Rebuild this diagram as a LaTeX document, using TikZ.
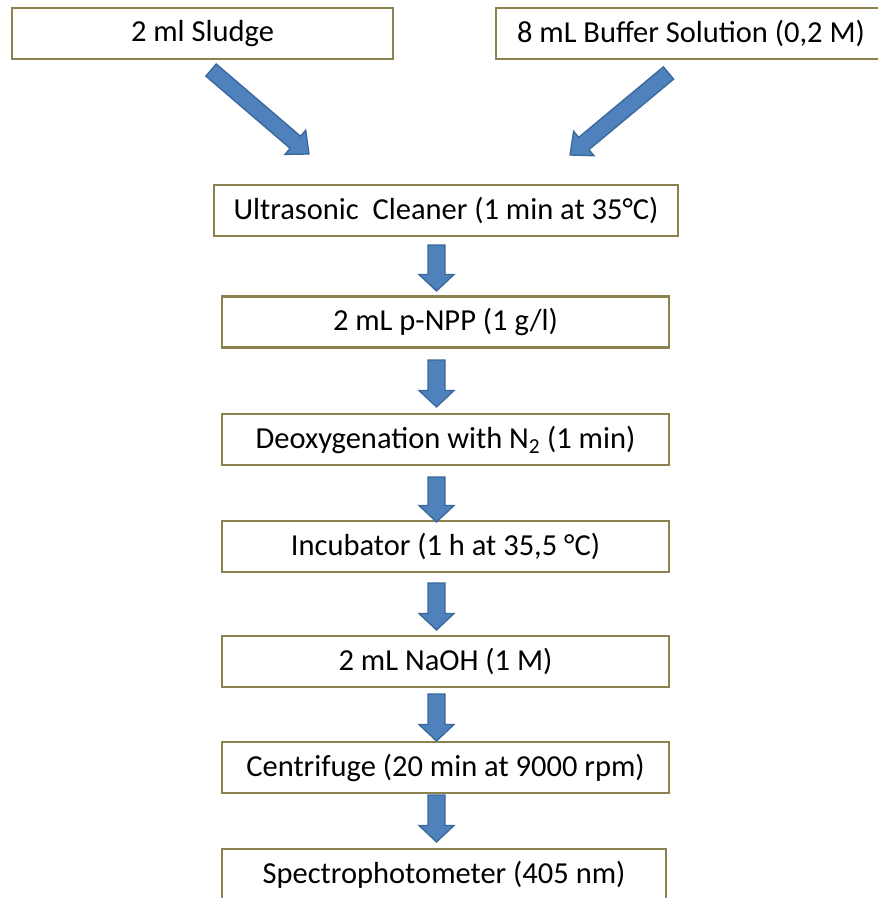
\documentclass[tikz,border=0pt]{standalone}
\usepackage{fontspec}
\setmainfont{Carlito}
\usetikzlibrary{calc}
\definecolor{boxc}{HTML}{8C8250}
\definecolor{arrf}{HTML}{4F81BD}
\definecolor{arrd}{HTML}{3A679C}
\tikzset{
  stepbox/.style={draw=boxc, line width=2.5pt, fill=white, inner sep=0pt,
    minimum height=51pt, font=\fontsize{30.5}{34}\selectfont, text=black},
  blockarr/.style={fill=arrf, draw=arrd, line width=1.3pt, line join=miter}
}
% #1 start, #2 tip, #3 shaft half width, #4 head half width, #5 head length
\newcommand\blockarrow[5]{%
  \coordinate (hb) at ($(#2)!#5!(#1)$);
  \draw[blockarr] ($(#1)!#3!90:(#2)$) -- ($(hb)!#3!-90:(#1)$) -- ($(hb)!#4!-90:(#1)$)
    -- (#2) -- ($(hb)!#4!90:(#1)$) -- ($(hb)!#3!90:(#1)$) -- ($(#1)!#3!-90:(#2)$) -- cycle;}
\begin{document}
\begin{tikzpicture}[x=1pt,y=-1pt]
\useasboundingbox (0,0) rectangle (878,898);
\fill[white] (0,0) rectangle (878,898);
\node[stepbox, minimum width=381pt] (sl) at (202.5,33.5) {2 ml Sludge};
\node[stepbox, minimum width=390pt] (bu) at (691,33.5) {8 mL Buffer Solution (0,2 M)};
\node[stepbox, minimum width=464pt] (us) at (446,210.5) {Ultrasonic\ \ Cleaner (1 min at 35°C)};
\node[stepbox, minimum width=447pt] (np) at (445.5,322) {2 mL p-NPP (1 g/l)};
\node[stepbox, minimum width=447pt] (dx) at (445.5,439.5) {Deoxygenation with N\textsubscript{2} (1 min)};
\node[stepbox, minimum width=447pt] (ic) at (445.5,546.5) {Incubator (1 h at 35,5 °C)};
\node[stepbox, minimum width=447pt] (na) at (445.5,661.5) {2 mL NaOH (1 M)};
\node[stepbox, minimum width=447pt] (ce) at (445.5,767.5) {Centrifuge (20 min at 9000 rpm)};
\node[stepbox, minimum width=444pt] (sp) at (444,874.5) {Spectrophotometer (405 nm)};
% arrow end points
\coordinate (d1s) at (211,70);    \coordinate (d1t) at (309,154);
\coordinate (d2s) at (668.5,73);  \coordinate (d2t) at (570,155);
\coordinate (v1s) at (436.5,245); \coordinate (v1t) at (436.5,291);
\coordinate (v2s) at (436.5,360); \coordinate (v2t) at (436.5,407);
\coordinate (v3s) at (436.5,477); \coordinate (v3t) at (436.5,522);
\coordinate (v4s) at (436.5,583); \coordinate (v4t) at (436.5,630);
\coordinate (v5s) at (436.5,694); \coordinate (v5t) at (436.5,741);
\coordinate (v6s) at (436.5,795); \coordinate (v6t) at (436.5,842);
\blockarrow{d1s}{d1t}{8pt}{16pt}{18pt}
\blockarrow{d2s}{d2t}{8pt}{16pt}{18pt}
\blockarrow{v1s}{v1t}{8.5pt}{17.5pt}{16.5pt}
\blockarrow{v2s}{v2t}{8.5pt}{17.5pt}{16.5pt}
\blockarrow{v3s}{v3t}{8.5pt}{17.5pt}{16.5pt}
\blockarrow{v4s}{v4t}{8.5pt}{17.5pt}{16.5pt}
\blockarrow{v5s}{v5t}{8.5pt}{17.5pt}{16.5pt}
\blockarrow{v6s}{v6t}{8.5pt}{17.5pt}{16.5pt}
\end{tikzpicture}
\end{document}
